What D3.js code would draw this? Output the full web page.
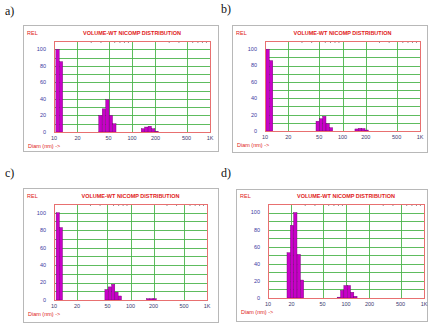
<!DOCTYPE html>
<html lang="en">
<head>
   <meta charset="UTF-8">
   <title>Nicomp distributions</title>
   <script src="https://d3js.org/d3.v7.min.js"></script>
   <style>
      body { margin: 0; background: #fff; }
      text { font-family: 'Liberation Sans', Arial, sans-serif; }
      text.plab { font-family: 'Liberation Serif', 'Times New Roman', serif; }
   </style>
</head>
<body>
   <script>

      // diameters (nm, bin centres) and relative volume
      const diamA = [11.1, 12.3, 39.4, 43.6, 48.4, 53.6, 59.4, 138, 153, 169, 187, 207];
      const relA = [100, 85, 20, 28, 39, 20, 10, 4, 6, 7, 4, 1];
      const diamB = [10.8, 12.0, 47.8, 52.8, 58.3, 64.4, 71.1, 152, 168, 186, 205];
      const relB = [100, 86, 12, 15, 18, 9, 4, 2.5, 3.3, 3, 1.2];
      const diamC = [11.2, 12.3, 48.6, 53.7, 59.4, 65.6, 72.6, 170, 188, 207];
      const relC = [100, 83, 12, 15, 18, 9, 4.6, 1.5, 1.5, 1.5];
      const diamD = [18.4, 20.3, 22.4, 24.8, 27.3, 80.9, 89.3, 98.6, 109, 120, 132];
      const relD = [53, 85, 100, 51, 21, 1, 9, 14.6, 14.6, 6.7, 2];

      const panelNames = ['a)', 'b)', 'c)', 'd)'];
      const xTicks = [10, 20, 50, 100, 200, 500, 1000];
      const xTickLabels = ['10', '20', '50', '100', '200', '500', '1K'];
      const xMinor = [30, 40, 60, 70, 80, 90, 300, 400, 600, 700, 800, 900];
      const yTicks = [0, 20, 40, 60, 80, 100];
      const yGrid = [10, 20, 30, 40, 50, 60, 70, 80, 90, 100];
      const binRatio = 1.103;

      const W = 441, H = 324;
      const svg = d3.select('body').append('svg').attr('width', W).attr('height', H);

      // layout of each panel: label pos, outer box, plot rect
      const panels = [
         { name: 0, diam: diamA, rel: relA, lab: [5, 15], box: [23, 25, 218, 151], plot: [54, 41, 210, 132] },
         { name: 1, diam: diamB, rel: relB, lab: [221, 13], box: [232, 25, 427, 152], plot: [265, 41, 420, 131] },
         { name: 2, diam: diamC, rel: relC, lab: [5, 177], box: [23, 188, 218, 322], plot: [54, 204, 207, 300] },
         { name: 3, diam: diamD, rel: relD, lab: [221, 177], box: [236, 189, 427, 321], plot: [268, 204, 424, 298] }
      ];

      panels.forEach(p => {
         const [bx0, by0, bx1, by1] = p.box;
         const [px0, py0, px1, py1] = p.plot;

         svg.append('text')
            .attr('class', 'plab')
            .attr('x', p.lab[0]).attr('y', p.lab[1])
            .attr('font-size', 12)
            .attr('fill', '#111')
            .text(panelNames[p.name]);

         svg.append('rect')
            .attr('x', bx0 + 0.5).attr('y', by0 + 0.5)
            .attr('width', bx1 - bx0).attr('height', by1 - by0)
            .attr('fill', '#fff').attr('stroke', '#b8b8b8').attr('stroke-width', 1);

         const x = d3.scaleLog().domain([10, 1000]).range([px0, px1]);
         const y = d3.scaleLinear().domain([0, 110]).range([py1, py0]);

         const g = svg.append('g');

         // green grid
         g.selectAll('.hg').data(yGrid).enter().append('line')
            .attr('x1', px0).attr('x2', px1)
            .attr('y1', d => Math.round(y(d)) + 0.5).attr('y2', d => Math.round(y(d)) + 0.5)
            .attr('stroke', '#4cb44c').attr('stroke-width', 0.9);
         g.selectAll('.vg').data(xTicks.slice(1, -1)).enter().append('line')
            .attr('x1', d => Math.round(x(d)) + 0.5).attr('x2', d => Math.round(x(d)) + 0.5)
            .attr('y1', py0).attr('y2', py1)
            .attr('stroke', '#4cb44c').attr('stroke-width', 0.9);

         // minor tick marks along the top
         g.selectAll('.mt').data(xMinor).enter().append('line')
            .attr('x1', d => x(d)).attr('x2', d => x(d))
            .attr('y1', py0).attr('y2', py0 + 2)
            .attr('stroke', '#777').attr('stroke-width', 0.8);

         // bars
         const s = Math.sqrt(binRatio);
         g.selectAll('.bar').data(p.diam.map((d, i) => ({ d: d, v: p.rel[i] }))).enter().append('rect')
            .attr('x', d => x(d.d / s))
            .attr('width', d => x(d.d * s) - x(d.d / s))
            .attr('y', d => y(d.v))
            .attr('height', d => y(0) - y(d.v))
            .attr('fill', '#c800c8')
            .attr('stroke', '#6a006a').attr('stroke-width', 0.4);

         // frame
         g.append('rect')
            .attr('x', px0 + 0.5).attr('y', py0 + 0.5)
            .attr('width', px1 - px0).attr('height', py1 - py0)
            .attr('fill', 'none').attr('stroke', '#e87070').attr('stroke-width', 1);

         // y tick labels
         g.selectAll('.yl').data(yTicks).enter().append('text')
            .attr('x', px0 - 8).attr('y', d => y(d))
            .attr('dy', '0.35em')
            .attr('text-anchor', 'end')
            .attr('font-size', 5.5)
            .attr('fill', '#3a3aa0')
            .text(d => d);

         // x tick labels
         g.selectAll('.xl').data(xTicks).enter().append('text')
            .attr('x', d => x(d)).attr('y', py1 + 6.5)
            .attr('dy', '0.35em')
            .attr('text-anchor', 'middle')
            .attr('font-size', 5.5)
            .attr('fill', '#3a3a70')
            .text((d, i) => xTickLabels[i]);

         // title and axis names
         g.append('text')
            .attr('x', (px0 + px1) / 2).attr('y', py0 - 8)
            .attr('dy', '0.35em')
            .attr('text-anchor', 'middle')
            .attr('font-size', 5.5).attr('font-weight', 'bold')
            .attr('fill', '#e02020')
            .text('VOLUME-WT NICOMP DISTRIBUTION');
         g.append('text')
            .attr('x', bx0 + 4).attr('y', py0 - 8)
            .attr('dy', '0.35em')
            .attr('font-size', 5.5)
            .attr('fill', '#e02020')
            .text('REL');
         g.append('text')
            .attr('x', bx0 + 5).attr('y', py1 + 14)
            .attr('dy', '0.35em')
            .attr('font-size', 5.5)
            .attr('fill', '#e02020')
            .text('Diam (nm) ->');
      });

   </script>
</body>
</html>
